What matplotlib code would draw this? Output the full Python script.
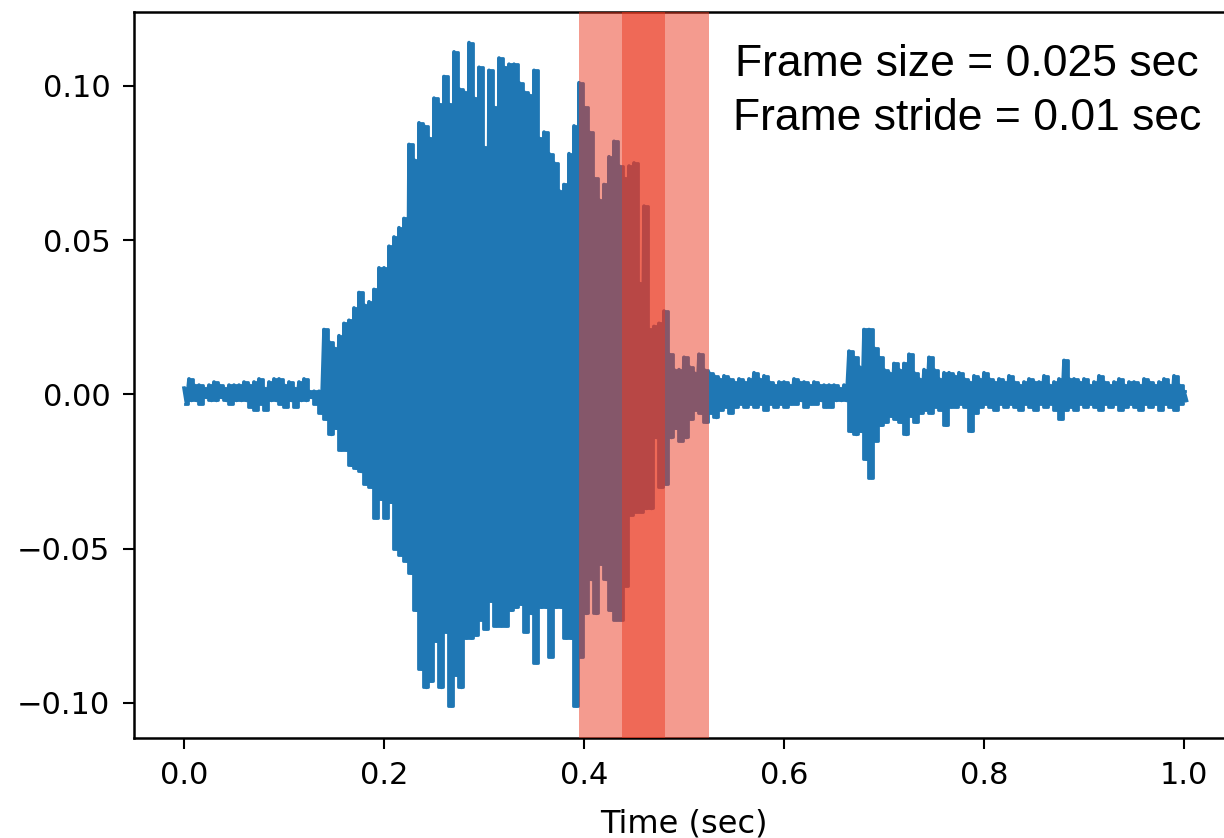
import numpy as np
import matplotlib
matplotlib.use("Agg")
import matplotlib.pyplot as plt

# ---------------- data ----------------
sample_step = 0.005          # seconds between envelope readings (t = 0 ... 1.0)
upper = [
    0.002, 0.005, 0.003, 0.003, 0.002, 0.003, 0.004, 0.003, 0.002, 0.003,
    0.003, 0.003, 0.004, 0.003, 0.004, 0.005, 0.002, 0.004, 0.005, 0.005,
    0.003, 0.004, 0.002, 0.004, 0.005, 0.001, 0.001, 0.001, 0.021, 0.017,
    0.015, 0.019, 0.023, 0.024, 0.028, 0.033, 0.029, 0.030, 0.034, 0.041,
    0.041, 0.048, 0.051, 0.054, 0.057, 0.081, 0.076, 0.088, 0.087, 0.083,
    0.096, 0.094, 0.103, 0.094, 0.111, 0.099, 0.098, 0.114, 0.096, 0.106,
    0.080, 0.105, 0.093, 0.109, 0.106, 0.107, 0.107, 0.101, 0.098, 0.097,
    0.105, 0.083, 0.085, 0.078, 0.075, 0.066, 0.068, 0.078, 0.087, 0.101,
    0.093, 0.085, 0.070, 0.063, 0.068, 0.077, 0.082, 0.074, 0.070, 0.074,
    0.075, 0.036, 0.061, 0.021, 0.022, 0.023, 0.027, 0.013, 0.008, 0.008,
    0.012, 0.009, 0.007, 0.013, 0.008, 0.007, 0.006, 0.005, 0.006, 0.005,
    0.004, 0.005, 0.004, 0.005, 0.007, 0.005, 0.006, 0.004, 0.003, 0.004,
    0.004, 0.003, 0.005, 0.004, 0.004, 0.003, 0.004, 0.003, 0.003, 0.003,
    0.003, 0.002, 0.003, 0.014, 0.012, 0.009, 0.021, 0.021, 0.015, 0.012,
    0.008, 0.007, 0.010, 0.008, 0.010, 0.013, 0.007, 0.005, 0.008, 0.012,
    0.008, 0.005, 0.007, 0.007, 0.006, 0.007, 0.005, 0.004, 0.006, 0.005,
    0.007, 0.005, 0.004, 0.005, 0.004, 0.006, 0.004, 0.003, 0.004, 0.005,
    0.004, 0.004, 0.006, 0.003, 0.004, 0.005, 0.011, 0.005, 0.005, 0.004,
    0.005, 0.003, 0.004, 0.006, 0.004, 0.003, 0.004, 0.005, 0.003, 0.004,
    0.004, 0.003, 0.005, 0.004, 0.003, 0.004, 0.005, 0.003, 0.006, 0.003,
    0.001,
]
lower = [
    -0.003, -0.002, -0.002, -0.003, -0.001, -0.002, -0.002, -0.001, -0.002, -0.003,
    -0.002, -0.002, -0.002, -0.004, -0.005, -0.003, -0.005, -0.002, -0.002, -0.003,
    -0.004, -0.002, -0.004, -0.002, -0.002, -0.001, -0.003, -0.006, -0.008, -0.013,
    -0.011, -0.018, -0.018, -0.023, -0.024, -0.025, -0.029, -0.030, -0.040, -0.034,
    -0.040, -0.035, -0.050, -0.052, -0.054, -0.058, -0.070, -0.089, -0.095, -0.093,
    -0.080, -0.095, -0.077, -0.101, -0.091, -0.095, -0.079, -0.079, -0.078, -0.073,
    -0.076, -0.067, -0.075, -0.075, -0.075, -0.070, -0.069, -0.068, -0.077, -0.071,
    -0.087, -0.069, -0.069, -0.085, -0.069, -0.069, -0.079, -0.079, -0.101, -0.085,
    -0.071, -0.060, -0.071, -0.055, -0.060, -0.070, -0.073, -0.073, -0.062, -0.039,
    -0.038, -0.038, -0.037, -0.037, -0.014, -0.030, -0.029, -0.014, -0.011, -0.015,
    -0.014, -0.008, -0.005, -0.006, -0.009, -0.006, -0.0075, -0.005, -0.004, -0.006,
    -0.004, -0.003, -0.004, -0.003, -0.004, -0.003, -0.005, -0.003, -0.004, -0.003,
    -0.004, -0.003, -0.003, -0.002, -0.004, -0.003, -0.003, -0.002, -0.004, -0.004,
    -0.002, -0.002, -0.002, -0.012, -0.013, -0.012, -0.021, -0.027, -0.015, -0.010,
    -0.009, -0.007, -0.008, -0.009, -0.013, -0.007, -0.009, -0.006, -0.005, -0.006,
    -0.004, -0.005, -0.010, -0.004, -0.004, -0.003, -0.004, -0.012, -0.006, -0.004,
    -0.003, -0.004, -0.005, -0.003, -0.004, -0.003, -0.004, -0.005, -0.003, -0.004,
    -0.005, -0.003, -0.004, -0.003, -0.005, -0.008, -0.005, -0.004, -0.005, -0.003,
    -0.004, -0.003, -0.004, -0.005, -0.003, -0.004, -0.003, -0.005, -0.004, -0.003,
    -0.004, -0.005, -0.003, -0.004, -0.003, -0.005, -0.003, -0.004, -0.005, -0.003,
    -0.002,
]
frame_spans = [(0.395, 0.481), (0.438, 0.525)]     # highlighted frames (sec)
annotation_lines = ["Frame size = 0.025 sec", "Frame stride = 0.01 sec"]
x_ticks = [0.0, 0.2, 0.4, 0.6, 0.8, 1.0]
y_ticks = [-0.10, -0.05, 0.00, 0.05, 0.10]
x_label = "Time (sec)"

# ---------------- build the waveform trace from the envelopes ----------------
n = len(upper)
t_env = np.arange(n) * sample_step
wave_t = np.empty(2 * n)
wave_v = np.empty(2 * n)
wave_t[0::2] = t_env
wave_t[1::2] = t_env + sample_step / 2
wave_v[0::2] = upper
wave_v[1::2] = lower

# ---------------- figure ----------------
W, H = 1224, 838
fig = plt.figure(figsize=(W / 100, H / 100), dpi=100)
ax = fig.add_axes([134 / W, 1 - 738.3 / H, (1234 - 134) / W, (738.3 - 11.7) / H])

blue = "#1f77b4"
# dense oscillation: filled between the envelopes, plus the oscillating trace
ax.fill_between(t_env + sample_step / 4, lower, upper, step="mid",
                color=blue, lw=0, zorder=2)
ax.plot(wave_t, wave_v, color=blue, lw=2.6, zorder=2)
ax.plot(t_env + sample_step / 4, upper, color=blue, lw=2.0,
        drawstyle="steps-mid", zorder=2)
ax.plot(t_env + sample_step / 4, lower, color=blue, lw=2.0,
        drawstyle="steps-mid", zorder=2)

span_color = (0.92, 0.22, 0.13)
for a, b in frame_spans:
    ax.axvspan(a, b, color=span_color, alpha=0.5, lw=0, zorder=3)

ax.set_xlim(-0.05, 1.05)
ax.set_ylim(-0.1115, 0.1240)
ax.set_xticks(x_ticks)
ax.set_xticklabels([f"{v:.1f}" for v in x_ticks])
ax.set_yticks(y_ticks)
ax.set_yticklabels([f"{v:.2f}".replace("-", "\u2212") for v in y_ticks])

ax.tick_params(axis="both", labelsize=22, length=8, width=1.5, color="black")
ax.tick_params(axis="x", pad=8)
ax.tick_params(axis="y", pad=9)
for s in ax.spines.values():
    s.set_linewidth(1.8)

ax.set_xlabel(x_label, fontsize=23, labelpad=14)

# annotation text (two centred lines)
baselines_px = [76, 130]
for line, yb in zip(annotation_lines, baselines_px):
    fig.text(967 / W, 1 - yb / H, line, ha="center", va="baseline",
             fontsize=32, family="Liberation Sans", color="black")

fig.savefig("out.png", dpi=100)
